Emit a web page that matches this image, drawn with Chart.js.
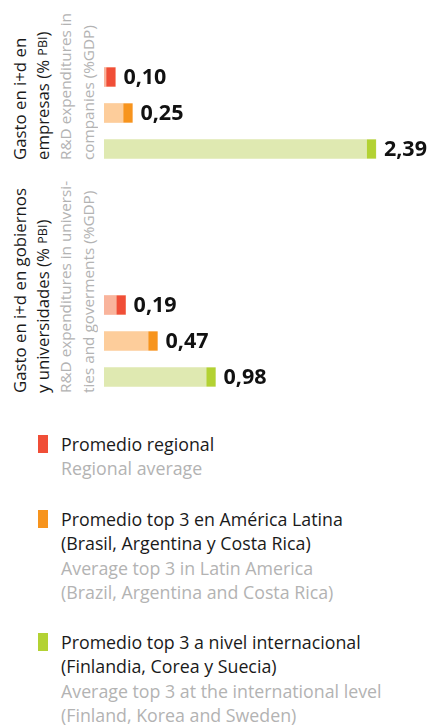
<!DOCTYPE html>
<html>
<head>
<meta charset="utf-8">
<script src="https://cdn.jsdelivr.net/npm/chart.js@4/dist/chart.umd.min.js"></script>
<style>
  html, body { margin: 0; padding: 0; background: #fff; }
  body { width: 440px; height: 727px; position: relative; overflow: hidden; font-family: "Open Sans", Lato, sans-serif; }
  canvas { position: absolute; }
  .glabel { position: absolute; writing-mode: vertical-rl; transform: rotate(180deg); white-space: nowrap; font-size: 16.8px; line-height: 22.5px; color: #1a1a1a; }
  .glabel .en { color: #b3b3b3; font-size: 15.3px; }
  .glabel .sc { font-size: 12.5px; }
  .legend { position: absolute; left: 0; top: 0; width: 440px; }
  .item { position: absolute; left: 61px; font-size: 17.8px; line-height: 24.6px; color: #1a1a1a; }
  .item .en { color: #b3b3b3; }
  .mark { position: absolute; left: -23px; top: 3px; width: 10px; height: 18px; }
</style>
</head>
<body>
<div class="glabel" id="g1" style="left:9px; top:0px; height:160px;"></div>
<div class="glabel" id="g2" style="left:9px; top:173px; height:220px;"></div>
<canvas id="c1" width="336" height="108" style="left:104px; top:59px;"></canvas>
<canvas id="c2" width="336" height="108" style="left:104px; top:287px;"></canvas>
<div class="legend" id="legend"></div>
<script>
// ---- data ----
const groupLabelsEs = [['Gasto en i+d en', 'empresas (% PBI)'], ['Gasto en i+d en gobiernos', 'y universidades (% PBI)']];
const groupLabelsEn = [['R&D expenditures in', 'companies (%GDP)'], ['R&D expenditures in universi-', 'ties and goverments (%GDP)']];
const seriesEs = [['Promedio regional'], ['Promedio top 3 en América Latina', '(Brasil, Argentina y Costa Rica)'], ['Promedio top 3 a nivel internacional', '(Finlandia, Corea y Suecia)']];
const seriesEn = [['Regional average'], ['Average top 3 in Latin America', '(Brazil, Argentina and Costa Rica)'], ['Average top 3 at the international level', '(Finland, Korea and Sweden)']];
const empresas = [0.10, 0.25, 2.39];
const gobiernos = [0.19, 0.47, 0.98];

// ---- styles ----
const darkColors = ['#f04e37', '#f7941d', '#b3d233'];
const lightColors = ['#f9b49c', '#fdcd9b', '#dfe9b1'];
const capW = 9;
const xMax = 2.953;

function fmt(v) { return v.toFixed(2).replace('.', ','); }

function escapeHtml(s) { return s.replace(/&/g, '&amp;').replace(/</g, '&lt;'); }
function withSmallCaps(s) { return escapeHtml(s).replace('PBI', '<span class="sc">PBI</span>'); }

['g1', 'g2'].forEach((id, gi) => {
  const el = document.getElementById(id);
  el.innerHTML = groupLabelsEs[gi].map(l => '<div>' + withSmallCaps(l) + '</div>').join('') +
    groupLabelsEn[gi].map(l => '<div class="en">' + escapeHtml(l) + '</div>').join('');
});

const legend = document.getElementById('legend');
const legendTops = [431.5, 506.5, 629.5];
seriesEs.forEach((lines, i) => {
  const d = document.createElement('div');
  d.className = 'item';
  d.style.top = legendTops[i] + 'px';
  d.innerHTML = '<div class="mark" style="background:' + darkColors[i] + '"></div>' +
    lines.map(l => '<div>' + escapeHtml(l) + '</div>').join('') +
    seriesEn[i].map(l => '<div class="en">' + escapeHtml(l) + '</div>').join('');
  legend.appendChild(d);
});

const capPlugin = {
  id: 'caps',
  afterDatasetsDraw(chart) {
    const ctx = chart.ctx;
    const meta = chart.getDatasetMeta(0);
    const vals = chart.data.datasets[0].data;
    meta.data.forEach((bar, i) => {
      const p = bar.getProps(['x', 'y', 'base', 'height'], true);
      const w = Math.min(capW, p.x - p.base);
      ctx.save();
      ctx.fillStyle = darkColors[i];
      ctx.fillRect(p.x - w, p.y - p.height / 2, w, p.height);
      ctx.fillStyle = '#111';
      ctx.font = 'bold 21.5px "Open Sans", Lato, sans-serif';
      ctx.textBaseline = 'middle';
      ctx.textAlign = 'left';
      ctx.fillText(fmt(vals[i]), p.x + 8, p.y + 1);
      ctx.restore();
    });
  }
};

function makeChart(id, values) {
  return new Chart(document.getElementById(id), {
    type: 'bar',
    data: {
      labels: seriesEs.map(s => s[0]),
      datasets: [{ data: values, backgroundColor: lightColors, barThickness: 19, borderWidth: 0 }]
    },
    options: {
      indexAxis: 'y',
      responsive: false,
      animation: false,
      devicePixelRatio: 1,
      layout: { padding: 0 },
      plugins: { legend: { display: false }, tooltip: { enabled: false } },
      scales: {
        x: { display: false, min: 0, max: xMax },
        y: { display: false }
      }
    },
    plugins: [capPlugin]
  });
}
makeChart('c1', empresas);
makeChart('c2', gobiernos);
</script>
</body>
</html>
